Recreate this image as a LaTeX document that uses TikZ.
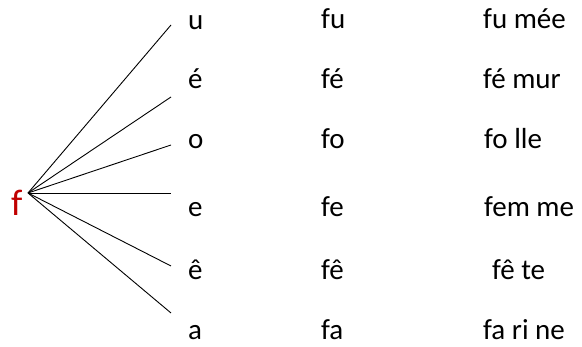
\documentclass[tikz,border=0pt]{standalone}
\usepackage{fontspec}
\setmainfont{Carlito}
\definecolor{fred}{HTML}{C00000}
\begin{document}
\begin{tikzpicture}[x=1pt,y=1pt,
  txt/.style={anchor=base west,inner sep=0pt,font=\fontsize{29}{34}\selectfont},
  big/.style={anchor=base west,inner sep=0pt,text=fred,font=\fontsize{37}{42}\selectfont},
  ray/.style={line width=0.9pt,black}]
\useasboundingbox (0,0) rectangle (582,347);
\node[big] (f) at (11,131) {f};
\coordinate (apex) at (28,154);
\coordinate (eu) at (171,322);
\coordinate (ee1) at (171,250);
\coordinate (eo) at (171,202);
\coordinate (ee) at (171,154);
\coordinate (ee2) at (171,81);
\coordinate (ea) at (171,34);
\foreach \e in {eu,ee1,eo,ee,ee2,ea} \draw[ray] (apex) -- (\e);
% column 1
\node[txt] (l1) at (188,317) {u};
\node[txt] (l2) at (188,258) {é};
\node[txt] (l3) at (188,198) {o};
\node[txt] (l4) at (188,130) {e};
\node[txt] (l5) at (188,67) {ê};
\node[txt] (l6) at (188,7) {a};
% column 2
\node[txt] (s1) at (321,318) {fu};
\node[txt] (s2) at (321,258) {fé};
\node[txt] (s3) at (321,198) {fo};
\node[txt] (s4) at (321,130) {fe};
\node[txt] (s5) at (321,67) {fê};
\node[txt] (s6) at (321,7) {fa};
% column 3
\node[txt] (w1) at (483,318) {fu mée};
\node[txt] (w2) at (483,258) {fé mur};
\node[txt] (w3) at (484,198) {fo lle};
\node[txt] (w4) at (484,130) {fem me};
\node[txt] (w5) at (492,67) {fê te};
\node[txt] (w6) at (483,7) {fa ri ne};
\end{tikzpicture}
\end{document}
